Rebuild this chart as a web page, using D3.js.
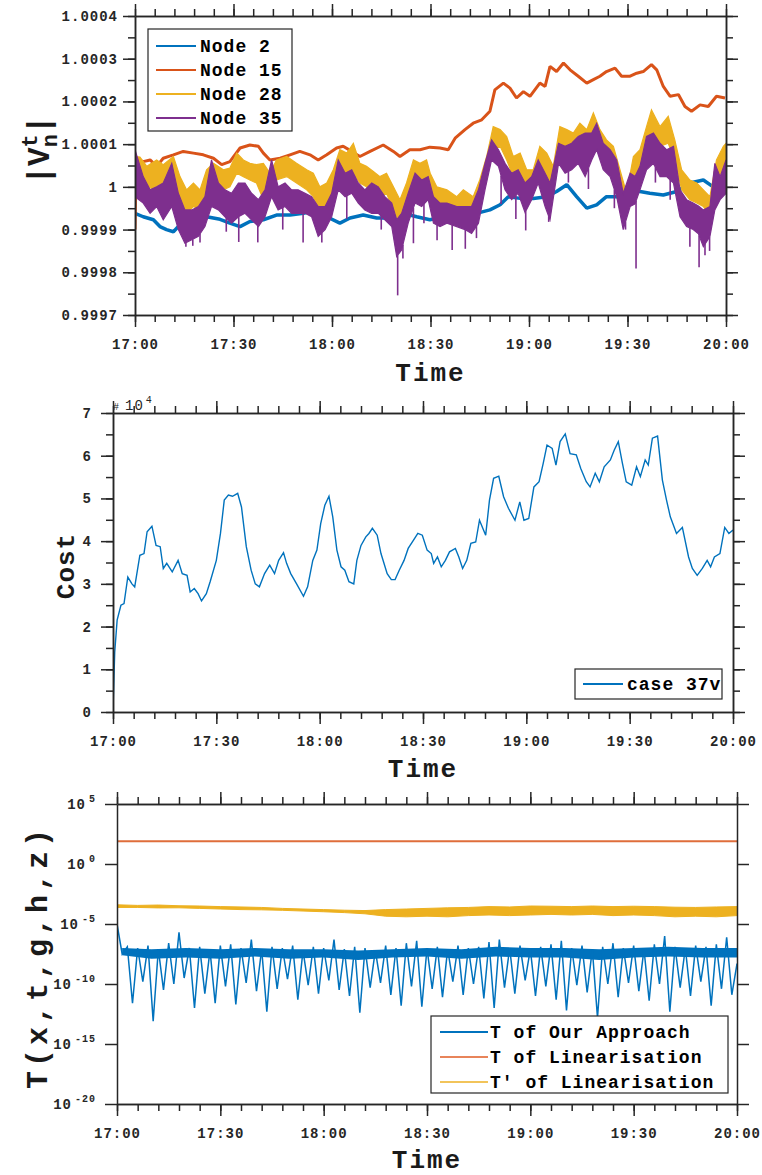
<!DOCTYPE html>
<html>
<head>
<meta charset="utf-8">
<script src="https://cdn.jsdelivr.net/npm/d3@7"></script>
<style>
body { margin: 0; background: #fff; }
svg { display: block; }
.axis text { font-family: "Liberation Mono", monospace; font-weight: bold; font-size: 14px; letter-spacing: 1px; fill: #262626; }
.axis path, .axis line { stroke: #262626; stroke-width: 1.5; }
.lbl { font-family: "Liberation Mono", monospace; font-weight: bold; fill: #1a1a1a; }
.leg { font-family: "Liberation Mono", monospace; font-weight: bold; font-size: 18px; letter-spacing: 1px; fill: #000; }
</style>
</head>
<body>
<svg id="fig" width="762" height="1175"></svg>
<script>
/* ticks and names */
var TIME_MAJOR = [0, 30, 60, 90, 120, 150, 180];          // minutes after 17:00
var TIME_LABELS = ["17:00", "17:30", "18:00", "18:30", "19:00", "19:30", "20:00"];
var V_TICKS = [0.9997, 0.9998, 0.9999, 1, 1.0001, 1.0002, 1.0003, 1.0004];
var V_LABELS = ["0.9997", "0.9998", "0.9999", "1", "1.0001", "1.0002", "1.0003", "1.0004"];
var COST_TICKS = [0, 1, 2, 3, 4, 5, 6, 7];
var T_TICKS = [1e-20, 1e-15, 1e-10, 1e-5, 1, 1e5];
var NODE_NAMES = ["Node 2", "Node 15", "Node 28", "Node 35"];
var NODE_COLORS = ["#0072BD", "#D95319", "#EDB120", "#7E2F8E"];
var T_NAMES = ["T of Our Approach", "T of Linearisation", "T' of Linearisation"];
var T_COLORS = ["#0072BD", "#D95319", "#EDB120"];

/* panel 1: |V| deviation from 1, in units of 1e-4. [minute, value] or [minute, low, high] */
var node2 = [[0,-0.62],[2.5,-0.70],[5.6,-0.77],[7.6,-0.93],[9.6,-1.0],[11.7,-1.05],[13.2,-0.93],[15.5,-0.88],
  [18,-0.85],[21.8,-0.70],[25.9,-0.76],[28.9,-0.85],[32,-0.93],[35,-0.81],[39.1,-0.77],[43.1,-0.66],[47.2,-0.66],
  [51.3,-0.62],[55.3,-0.54],[58.4,-0.70],[62.4,-0.85],[65.5,-0.73],[69.5,-0.66],[73.6,-0.73],[77.6,-0.73],
  [81.7,-0.62],[85.8,-0.70],[89.8,-0.77],[93,-0.72],[96,-0.64],[100,-0.62],[104,-0.62],[108.1,-0.54],
  [111.2,-0.42],[113.7,-0.23],[117.3,-0.27],[121.3,-0.27],[125.4,-0.23],[128.4,-0.11],[131.5,0.05],
  [134.5,-0.23],[137.6,-0.50],[140.6,-0.42],[143.6,-0.23],[147.7,-0.23],[150.8,-0.11],[153.8,-0.11],
  [156.8,-0.15],[160.9,-0.19],[165,-0.11],[169,0.09],[173.1,0.16],[176.1,0.0],[180,-0.15]];
var node15 = [[0,-1.0],[0.3,0.55],[1,0.63],[2.5,0.59],[4.6,0.63],[6.6,0.48],[8.6,0.67],[11.7,0.75],[14.7,0.83],
  [17.8,0.79],[20.8,0.75],[23.9,0.67],[26.4,0.52],[28.9,0.59],[32,0.91],[35,0.98],[37.6,0.95],[39.1,0.79],
  [41.1,0.63],[44.2,0.67],[47.2,0.75],[50.2,0.83],[53.3,0.75],[55.8,0.63],[58.4,0.75],[61.4,0.91],[63.4,0.95],
  [66,0.83],[68.5,0.71],[71.6,0.83],[75.6,0.98],[78.7,0.83],[80.7,0.71],[83.7,0.87],[86.8,0.87],[89.8,0.93],
  [92.9,0.91],[95.4,0.87],[97.5,1.14],[100.5,1.34],[103,1.49],[105.6,1.57],[108.1,1.77],[109.6,2.27],
  [112.2,2.43],[114.2,2.31],[116.2,2.08],[118.3,2.23],[120.3,2.12],[123.3,2.43],[124.9,2.35],[126.4,2.82],
  [128.4,2.70],[130.5,2.90],[132.5,2.74],[135,2.59],[137.6,2.43],[139.6,2.51],[141.6,2.59],[143.6,2.70],
  [146.2,2.78],[148.2,2.59],[150.8,2.59],[152.8,2.66],[154.8,2.70],[157.3,2.86],[158.9,2.74],[160.9,2.35],
  [163,2.12],[165.5,2.16],[167.5,1.88],[169.5,1.77],[172.1,1.92],[174.6,1.88],[177.1,2.12],[179.7,2.08]];
var node28 = [[0,-0.20,0.71],[1.5,-0.23,0.70],[3.6,0.0,0.48],[6.6,-0.07,0.63],[8.6,0.09,0.52],[11.7,-0.07,0.71],
  [13.7,-0.38,0.24],[15.7,-0.62,-0.07],[17.8,-0.46,0.09],[19.8,-0.54,-0.07],[21.8,-0.23,0.40],[23.9,0.0,0.55],
  [26.9,-0.07,0.40],[28.9,0.0,0.44],[31,0.32,0.79],[33,0.24,0.63],[35,0.16,0.55],[37,0.09,0.52],[39.1,-0.30,0.55],
  [41.1,-0.23,0.32],[43.1,0.16,0.63],[46.2,0.24,0.71],[49.2,0.09,0.55],[52.3,-0.07,0.40],[54.3,-0.23,0.32],
  [56.3,-0.54,0.0],[58.4,-0.46,0.09],[60.4,-0.07,0.40],[62.4,0.40,0.87],[64.5,0.24,0.79],[66.5,0.32,1.02],
  [68.5,0.09,0.55],[70.5,0.0,0.48],[72.6,-0.15,0.36],[74.6,-0.23,0.24],[76.6,-0.15,0.32],[78.7,-0.54,0.0],
  [80.7,-0.85,-0.30],[82.7,-0.46,0.09],[84.8,0.0,0.63],[86.8,-0.07,0.55],[88.8,0.09,0.63],[89.9,-0.23,0.32],
  [91.9,-0.46,0.0],[95,-0.46,-0.07],[98,-0.70,-0.23],[100,-0.62,-0.07],[103,-0.62,-0.23],[105,-0.23,0.16],
  [107.1,0.32,0.71],[109.1,0.87,1.41],[111.2,0.95,1.34],[113.2,0.63,1.18],[115.2,0.24,0.71],[117.3,0.32,0.79],
  [119.3,-0.15,0.40],[121.3,0.0,0.40],[123.3,0.48,0.95],[125.4,0.16,0.79],[127.4,-0.07,0.48],[129.4,0.95,1.41],
  [131.5,0.87,1.34],[133.5,0.87,1.26],[135.5,0.95,1.49],[137.6,0.87,1.34],[139.6,1.26,1.73],[141.6,0.87,1.34],
  [143.6,0.55,1.10],[145.7,0.32,0.95],[147.7,-0.15,0.40],[149.7,-0.54,-0.15],[151.8,0.09,0.71],[153.8,0.24,0.87],
  [155.8,0.87,1.41],[157.3,1.26,1.80],[159.9,0.95,1.41],[162.4,1.02,1.65],[164.4,0.63,1.10],[166.5,-0.07,0.40],
  [169,-0.30,0.16],[171.1,-0.38,0.09],[173.1,-0.46,-0.07],[175.1,-0.70,-0.23],[177.1,0.09,0.63],[179.2,0.48,0.95],
  [180,0.63,1.02]];
var node35 = [[0,-0.23,0.87],[2.5,-0.38,0.24],[4.6,-0.62,-0.07],[6.6,-0.46,0.0],[8.6,-0.77,0.09],[11.2,-0.46,0.55],
  [13.2,-1.0,-0.15],[15.2,-1.32,-0.54],[17.3,-1.24,-0.54],[19.3,-1.16,-0.46],[21.3,-0.93,-0.23],[23.3,-0.46,0.63],
  [25.4,-0.54,0.09],[27.4,-0.70,-0.07],[29.4,-0.85,-0.15],[31.5,-0.70,0.09],[33.5,-0.62,0.09],[35.5,-0.77,-0.15],
  [37.6,-0.93,-0.30],[39.6,-0.70,-0.07],[41.6,-0.23,0.63],[43.6,-0.54,0.0],[45.7,-0.46,0.09],[47.7,-0.62,-0.07],
  [49.7,-0.62,-0.07],[51.8,-0.62,-0.15],[53.8,-0.70,-0.23],[55.8,-1.16,-0.46],[57.9,-1.0,-0.46],[59.9,-0.70,-0.15],
  [61.9,-0.07,0.63],[64,-0.23,0.32],[66,-0.15,0.40],[68,-0.38,0.09],[70,-0.54,-0.07],[72.1,-0.62,0.09],
  [74.1,-0.62,0.0],[76.1,-0.77,-0.23],[78.2,-0.93,-0.38],[79.7,-1.63,-0.77],[81.2,-1.48,-0.62],[83.2,-0.85,-0.15],
  [85.3,-0.38,0.32],[87.3,-0.46,0.16],[89.3,-0.30,0.24],[90.9,-0.85,-0.23],[92.9,-0.93,-0.38],[95,-0.85,-0.38],
  [98,-0.93,-0.46],[100.5,-1.0,-0.46],[102.5,-1.09,-0.46],[104.6,-0.85,-0.07],[106.6,-0.07,0.55],[108.6,0.63,1.10],
  [110.7,0.48,0.87],[112.7,-0.07,0.55],[114.7,-0.30,0.32],[116.7,-0.15,0.40],[118.8,-0.60,0.09],[120.8,-0.30,0.24],
  [122.8,0.09,0.63],[124.9,-0.46,0.32],[126.4,-0.77,0.09],[129,0.55,1.02],[131,0.32,0.95],[133,0.40,1.02],
  [135,0.55,1.18],[137.1,0.24,1.26],[139.1,0.63,1.26],[140.6,0.87,1.49],[142.6,0.40,1.02],[144.7,0.24,0.87],
  [146.7,-0.23,0.63],[148.7,-1.0,-0.15],[150.8,-0.46,0.32],[152.3,-0.40,0.24],[153.8,-0.07,0.48],[155.8,0.40,1.18],
  [157.9,0.55,1.26],[159.9,0.24,1.02],[161.9,0.24,0.87],[164,0.09,0.95],[166,-0.70,-0.07],[168,-0.93,-0.30],
  [170,-1.0,-0.38],[171.6,-1.1,-0.45],[173.1,-1.40,-0.54],[175.1,-1.16,-0.46],[176.6,-0.54,0.55],[178.2,-0.30,0.24],
  [180,-0.15,0.63]];
var node35Spikes = [[15.5,-1.40],[17.6,-1.38],[19.8,-1.30],[27.8,-1.05],[31.6,-1.29],[37.4,-1.30],[45.0,-1.0],
  [51.2,-1.30],[56.9,-1.30],[64.5,-0.75],[75.0,-1.0],[80.0,-2.54],[81.6,-1.68],[84.8,-1.32],[88.0,-0.85],
  [92.0,-1.25],[96.6,-1.48],[100.6,-1.45],[104.0,-1.2],[111.5,-0.4],[116.0,-0.75],[119.0,-1.02],[126.0,-0.82],
  [132.0,0.1],[138.1,-0.05],[146.0,-0.5],[149.4,-1.0],[152.6,-1.91],[158.5,0.1],[163.0,-0.3],[169.0,-1.4],
  [171.8,-1.88],[173.6,-1.60],[175.0,-1.5]];

/* panel 2: cost, in units of 1e4 */
var cost37v = [[0,0.04],[0.5,1.4],[1.2,2.15],[2.3,2.5],[3.2,2.54],[4.3,3.16],[5.5,3.0],[6.3,2.93],[7.8,3.67],[9,3.71],
  [9.9,4.22],[11.3,4.35],[12.5,3.9],[13.7,3.87],[14.6,3.36],[15.6,3.48],[17.2,3.28],[17.7,3.36],[18.9,3.55],[20.1,3.24],
  [21.5,3.2],[22.4,2.81],[23.6,2.89],[24.7,2.77],[25.7,2.6],[27.1,2.77],[28.2,3.05],[30,3.55],[31.2,4.18],[32.3,4.96],
  [33.5,5.08],[34.7,5.05],[36.2,5.12],[37.3,4.8],[38.7,3.87],[40.1,3.32],[41.3,3.0],[42.5,2.93],[44,3.24],[45.5,3.44],
  [46.9,3.24],[48.1,3.55],[49.5,3.73],[50.4,3.48],[51.6,3.24],[53.3,3.0],[55.3,2.71],[56.5,2.93],[58,3.55],[59.2,3.79],
  [60.3,4.41],[61.5,4.84],[62.7,5.05],[63.8,4.57],[65,3.79],[66.2,3.4],[67.3,3.32],[68.5,3.05],[69.9,3.0],[70.8,3.55],
  [72,3.9],[73.4,4.1],[74.3,4.18],[75.3,4.3],[76.7,4.14],[77.8,3.71],[79.6,3.24],[80.8,3.1],[81.9,3.1],[83.1,3.32],
  [84.5,3.55],[85.7,3.83],[87.2,4.02],[88.5,4.18],[89.8,4.14],[91.2,3.79],[92.4,3.71],[93.1,3.48],[94.2,3.63],
  [95.3,3.4],[96.5,3.55],[97.7,3.75],[99.4,3.83],[100.4,3.63],[101.5,3.36],[102.7,3.55],[103.9,3.95],[105.3,3.98],
  [106.4,4.49],[108.2,4.14],[109.3,4.96],[110.5,5.47],[112,5.52],[113.4,5.04],[114.8,4.77],[116.7,4.49],[118.1,4.92],
  [119.3,4.49],[120.7,4.53],[122.2,5.27],[123.7,5.39],[124.9,5.82],[126,6.25],[127.5,6.17],[128.6,5.78],[129.8,6.33],
  [131.3,6.51],[132.7,6.05],[134.5,6.02],[135.8,5.7],[137.4,5.39],[138.5,5.27],[140,5.59],[141.2,5.39],[142.6,5.74],
  [144.4,5.9],[145.5,6.13],[146.7,6.33],[147.9,5.82],[149,5.39],[150.6,5.31],[152,5.74],[153.1,5.51],[154.5,5.9],
  [155.4,5.78],[156.6,6.41],[158.1,6.46],[159.5,5.43],[160.7,4.96],[161.8,4.57],[163.6,4.18],[165.3,4.32],[167.1,3.63],
  [168.2,3.36],[169.6,3.2],[171.1,3.36],[172.5,3.55],[173.5,3.4],[174.6,3.63],[176.2,3.71],[177.6,4.32],[178.8,4.18],
  [180,4.26]];

/* panel 3: log10 of T. our approach read every 1.5 min (alternating peak / dip) */
var OUR_STEP = 1.5;
var ourApproachLog = [-5.0,-7.5,-6.9,-11.6,-7.0,-9.8,-6.8,-13.1,-7.1,-10.5,-6.6,-10.0,-5.7,-9.5,-7.0,-12.0,-6.9,-10.8,
  -7.2,-11.6,-6.8,-10.2,-6.7,-11.7,-7.0,-9.9,-6.3,-10.6,-7.1,-12.3,-6.9,-10.4,-7.0,-9.6,-6.8,-11.3,-7.2,-10.1,-6.9,
  -10.8,-7.0,-9.7,-6.3,-10.5,-7.1,-11.0,-6.9,-12.4,-7.0,-10.3,-7.2,-9.9,-6.8,-10.9,-7.0,-11.8,-6.6,-10.2,-6.4,-11.9,
  -7.0,-10.4,-6.9,-11.1,-7.1,-9.8,-6.8,-10.9,-7.0,-10.0,-6.9,-11.2,-6.5,-12.0,-6.3,-10.3,-7.0,-10.8,-6.8,-9.7,-7.1,
  -11.0,-6.9,-10.2,-6.7,-11.3,-6.4,-12.2,-7.0,-10.1,-6.8,-10.7,-7.1,-12.8,-6.9,-10.0,-6.6,-11.1,-7.0,-9.9,-6.8,-10.6,
  -7.1,-11.4,-6.7,-10.0,-6.0,-12.3,-6.9,-10.3,-7.0,-11.0,-6.8,-9.8,-6.9,-11.8,-6.7,-10.4,-6.1,-10.9,-8.3];
/* dense core of the same series: [minute, low, high] in log10 */
var ourApproachCore = [[1.5,-7.6,-7.0],[10,-7.9,-7.1],[20,-7.8,-7.0],[30,-7.9,-7.1],[40,-7.7,-7.0],[50,-7.9,-7.1],
  [60,-7.8,-7.1],[70,-8.0,-7.2],[80,-7.8,-7.1],[90,-7.7,-7.0],[100,-7.9,-7.1],[110,-7.7,-6.9],[120,-7.8,-7.0],
  [130,-7.8,-7.0],[140,-8.0,-7.1],[150,-7.8,-7.0],[160,-7.7,-6.9],[170,-7.8,-7.0],[180,-7.8,-7.0]];
var linearisationT = 80;
var linearisationTpLog = [[0,-3.62,-3.40],[6,-3.62,-3.45],[12,-3.66,-3.42],[18,-3.65,-3.48],[24,-3.70,-3.50],
  [30,-3.75,-3.55],[36,-3.80,-3.58],[42,-3.82,-3.62],[48,-3.86,-3.70],[54,-3.92,-3.75],[60,-3.98,-3.80],
  [66,-4.05,-3.85],[72,-4.15,-3.88],[78,-4.35,-3.80],[84,-4.40,-3.75],[90,-4.35,-3.70],[96,-4.40,-3.65],
  [102,-4.30,-3.62],[108,-4.25,-3.55],[114,-4.30,-3.58],[120,-4.25,-3.50],[126,-4.20,-3.52],[132,-4.25,-3.55],
  [138,-4.20,-3.50],[144,-4.30,-3.55],[150,-4.25,-3.52],[156,-4.30,-3.55],[162,-4.40,-3.60],[168,-4.35,-3.62],
  [174,-4.40,-3.58],[180,-4.30,-3.55]];

var X_MINOR = d3.range(0, 181, 6);
var svg = d3.select("#fig");

function panel(left, top, right, bottom, id) {
  var g = svg.append("g").attr("transform", "translate(" + left + "," + top + ")");
  g.append("clipPath").attr("id", id).append("rect")
    .attr("width", right - left).attr("height", bottom - top);
  return g;
}

function drawAxes(g, x, y, yMajor, yMinor, yFormat, yPad) {
  var w = x.range()[1], h = y.range()[0];
  function add(axis, tx, ty) {
    return g.append("g").attr("class", "axis").attr("transform", "translate(" + tx + "," + ty + ")").call(axis);
  }
  add(d3.axisBottom(x).tickValues(X_MINOR).tickSize(7).tickSizeOuter(0).tickFormat(""), 0, h);
  add(d3.axisTop(x).tickValues(X_MINOR).tickSize(7).tickSizeOuter(0).tickFormat(""), 0, 0);
  add(d3.axisBottom(x).tickValues(TIME_MAJOR).tickSize(12).tickSizeOuter(0).tickPadding(12)
    .tickFormat(function(d, i) { return TIME_LABELS[i]; }), 0, h);
  add(d3.axisTop(x).tickValues(TIME_MAJOR).tickSize(12).tickSizeOuter(0).tickFormat(""), 0, 0);
  if (yMinor) {
    add(d3.axisLeft(y).tickValues(yMinor).tickSize(7).tickSizeOuter(0).tickFormat(""), 0, 0);
    add(d3.axisRight(y).tickValues(yMinor).tickSize(7).tickSizeOuter(0).tickFormat(""), w, 0);
  }
  add(d3.axisRight(y).tickValues(yMajor).tickSize(12).tickSizeOuter(0).tickFormat(""), w, 0);
  return add(d3.axisLeft(y).tickValues(yMajor).tickSize(12).tickSizeOuter(0).tickPadding(yPad).tickFormat(yFormat), 0, 0);
}

function timeLabel(g, x, baseline) {
  g.append("text").attr("class", "lbl").attr("x", (x.range()[0] + x.range()[1]) / 2).attr("y", baseline)
    .attr("text-anchor", "middle").attr("font-size", 26).attr("letter-spacing", 2).text("Time");
}

function legend(g, names, colors, box, lineX, textX, rowY) {
  g.append("rect").attr("x", box[0]).attr("y", box[1]).attr("width", box[2]).attr("height", box[3])
    .attr("fill", "#fff").attr("stroke", "#262626").attr("stroke-width", 1.2);
  var row = g.selectAll(".legrow").data(names).enter().append("g");
  row.append("line").attr("x1", lineX[0]).attr("x2", lineX[1])
    .attr("y1", function(d, i) { return rowY[i]; }).attr("y2", function(d, i) { return rowY[i]; })
    .attr("stroke", function(d, i) { return colors[i]; }).attr("stroke-width", 2);
  row.append("text").attr("class", "leg").attr("x", textX)
    .attr("y", function(d, i) { return rowY[i] + 6; }).text(function(d) { return d; });
}

/* ---------- panel 1 ---------- */
(function() {
  var L = 135, T = 16, R = 726, B = 315;
  var g = panel(L, T, R, B, "clip1");
  var x = d3.scaleLinear().domain([0, 180]).range([0, R - L]);
  var y = d3.scaleLinear().domain([0.9997, 1.0004]).range([B - T, 0]);
  var v = function(d) { return y(1 + d * 1e-4); };
  var plot = g.append("g").attr("clip-path", "url(#clip1)");

  var line = d3.line().x(function(d) { return x(d[0]); }).y(function(d) { return v(d[1]); });
  var band = d3.area().x(function(d) { return x(d[0]); })
    .y0(function(d) { return v(d[1]); }).y1(function(d) { return v(d[2]); });

  plot.append("path").datum(node2).attr("d", line).attr("fill", "none")
    .attr("stroke", NODE_COLORS[0]).attr("stroke-width", 3.5).attr("stroke-linejoin", "bevel");
  plot.append("path").datum(node15).attr("d", line).attr("fill", "none")
    .attr("stroke", NODE_COLORS[1]).attr("stroke-width", 3).attr("stroke-linejoin", "bevel");
  plot.append("path").datum(node28).attr("d", band).attr("fill", NODE_COLORS[2])
    .attr("stroke", NODE_COLORS[2]).attr("stroke-width", 1.2);
  plot.append("path").datum(node35).attr("d", band).attr("fill", NODE_COLORS[3])
    .attr("stroke", NODE_COLORS[3]).attr("stroke-width", 1.2);

  var bis = d3.bisector(function(d) { return d[0]; }).left;
  plot.selectAll(".spike").data(node35Spikes).enter().append("line")
    .attr("x1", function(d) { return x(d[0]); }).attr("x2", function(d) { return x(d[0]); })
    .attr("y1", function(d) { return v(d[1]); })
    .attr("y2", function(d) {
      var i = Math.max(1, bis(node35, d[0])), a = node35[i - 1], b = node35[i];
      var f = (d[0] - a[0]) / (b[0] - a[0]);
      return v(a[1] + f * (b[1] - a[1]));
    })
    .attr("stroke", NODE_COLORS[3]).attr("stroke-width", 1.6);

  drawAxes(g, x, y, V_TICKS, d3.range(0, 15).map(function(i) { return 0.9997 + i * 0.00005; }),
    function(d, i) { return V_LABELS[i]; }, 5);
  timeLabel(g, x, 381 - T);

  var yl = g.append("text").attr("class", "lbl").attr("font-size", 31)
    .attr("transform", "translate(" + (49 - L) + "," + (150 - T) + ") rotate(-90)").attr("text-anchor", "middle");
  yl.append("tspan").text("|V");
  yl.append("tspan").attr("font-size", 22).attr("dy", -12).text("t");
  yl.append("tspan").attr("font-size", 22).attr("dx", -13).attr("dy", 20).text("n");
  yl.append("tspan").attr("dy", -8).text("|");

  legend(g, NODE_NAMES, NODE_COLORS, [148 - L, 29 - T, 144, 102], [156 - L, 196 - L], 200 - L,
    [46 - T, 70 - T, 94 - T, 118 - T]);
})();

/* ---------- panel 2 ---------- */
(function() {
  var L = 113, T = 413, R = 733, B = 712;
  var g = panel(L, T, R, B, "clip2");
  var x = d3.scaleLinear().domain([0, 180]).range([0, R - L]);
  var y = d3.scaleLinear().domain([0, 7]).range([B - T, 0]);
  var plot = g.append("g").attr("clip-path", "url(#clip2)");
  plot.append("path").datum(cost37v)
    .attr("d", d3.line().x(function(d) { return x(d[0]); }).y(function(d) { return y(d[1]); }))
    .attr("fill", "none").attr("stroke", "#0072BD").attr("stroke-width", 1.4);

  drawAxes(g, x, y, COST_TICKS, d3.range(0, 7.01, 0.5), function(d) { return d; }, 9);
  timeLabel(g, x, 777 - T);

  g.append("text").attr("class", "lbl").attr("font-size", 26).attr("letter-spacing", 1)
    .attr("transform", "translate(" + (74 - L) + "," + (566 - T) + ") rotate(-90)")
    .attr("text-anchor", "middle").text("Cost");

  var ex = g.append("text").attr("x", 0).attr("y", 410 - T).attr("fill", "#262626")
    .attr("font-family", "Liberation Mono, monospace");
  ex.append("tspan").attr("font-size", 10).text("#");
  ex.append("tspan").attr("font-size", 14).attr("dx", 6).attr("letter-spacing", 1).text("10");
  ex.append("tspan").attr("font-size", 10).attr("dx", 2).attr("dy", -7).text("4");

  legend(g, ["case 37v"], ["#0072BD"], [575 - L, 669 - T, 147, 30], [583 - L, 623 - L], 627 - L, [684 - T]);
})();

/* ---------- panel 3 ---------- */
(function() {
  var L = 117, T = 804, R = 737, B = 1104;
  var g = panel(L, T, R, B, "clip3");
  var x = d3.scaleLinear().domain([0, 180]).range([0, R - L]);
  var y = d3.scaleLog().domain([1e-20, 1e5]).range([B - T, 0]);
  var p10 = function(e) { return y(Math.pow(10, e)); };
  var plot = g.append("g").attr("clip-path", "url(#clip3)");

  plot.append("path").datum(ourApproachCore)
    .attr("d", d3.area().x(function(d) { return x(d[0]); })
      .y0(function(d) { return p10(d[1]); }).y1(function(d) { return p10(d[2]); }))
    .attr("fill", T_COLORS[0]);
  plot.append("path").datum(ourApproachLog)
    .attr("d", d3.line().x(function(d, i) { return x(i * OUR_STEP); }).y(function(d) { return p10(d); }))
    .attr("fill", "none").attr("stroke", T_COLORS[0]).attr("stroke-width", 1.5);
  plot.append("path").datum([0, 180])
    .attr("d", d3.line().x(function(d) { return x(d); }).y(function() { return y(linearisationT); }))
    .attr("fill", "none").attr("stroke", T_COLORS[1]).attr("stroke-opacity", 0.85).attr("stroke-width", 2);
  plot.append("path").datum(linearisationTpLog)
    .attr("d", d3.area().x(function(d) { return x(d[0]); })
      .y0(function(d) { return p10(d[1]); }).y1(function(d) { return p10(d[2]); }))
    .attr("fill", T_COLORS[2]).attr("stroke", T_COLORS[2]).attr("stroke-width", 1);

  var ya = drawAxes(g, x, y, T_TICKS, null, function() { return "10"; }, 9);
  ya.selectAll(".tick text").append("tspan").attr("font-size", 10).attr("dx", 3).attr("dy", -7)
    .text(function(d) { return Math.round(Math.log10(d)); });
  timeLabel(g, x, 1168 - T);

  g.append("text").attr("class", "lbl").attr("font-size", 30).attr("letter-spacing", 4)
    .attr("transform", "translate(" + (47 - L) + "," + (957 - T) + ") rotate(-90)")
    .attr("text-anchor", "middle").text("T(x,t,g,h,z)");

  legend(g, T_NAMES, [T_COLORS[0], "#E8845A", "#F2C45A"], [431 - L, 1016 - T, 297, 77], [440 - L, 488 - L], 490 - L,
    [1032 - T, 1057 - T, 1082 - T]);
})();
</script>
</body>
</html>
